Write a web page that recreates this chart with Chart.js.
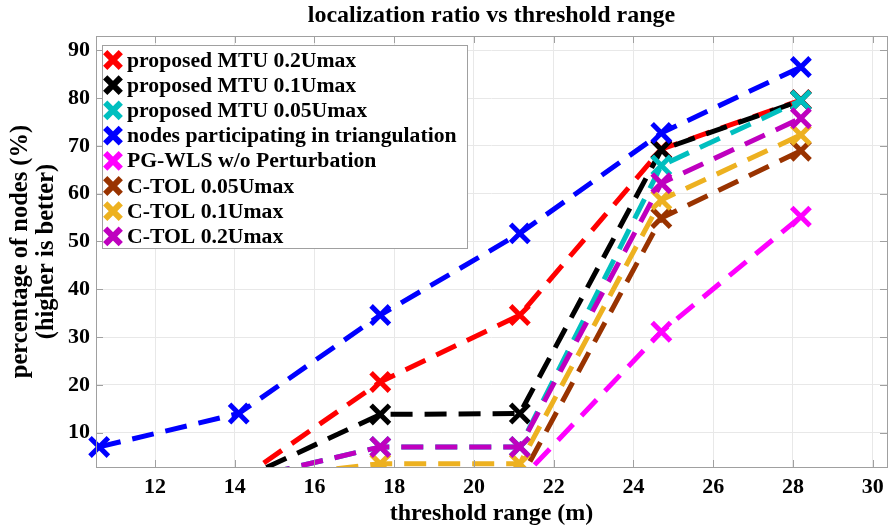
<!DOCTYPE html>
<html>
<head>
<meta charset="utf-8">
<script src="https://cdn.jsdelivr.net/npm/chart.js@4.4.1/dist/chart.umd.min.js"></script>
<style>
  html, body { margin: 0; padding: 0; background: #fff; }
  #wrap { width: 891px; height: 526px; }
</style>
</head>
<body>
<div id="wrap"><canvas id="c" width="891" height="526"></canvas></div>
<script>
// ---- data ----
const thresholdRange = [10.6, 14.1, 17.65, 21.15, 24.7, 28.2];
const mtu02 = [0, 0, 20.6, 34.6, 69.3, 79.6];
const mtu01 = [0, 0, 13.8, 14.0, 69.2, 79.5];
const mtu005 = [0, 0, 7.0, 7.0, 65.9, 79.5];
const triangulation = [7.0, 14.0, 34.6, 51.7, 72.7, 86.5];
const pgWls = [0, 0, 0, 0, 31.1, 55.2];
const ctol005 = [0, 0, 0, 0, 54.9, 69.0];
const ctol01 = [0, 0, 3.5, 3.5, 58.7, 72.3];
const ctol02 = [0, 0, 7.0, 7.0, 62.2, 75.8];
const seriesLabels = [
  'proposed MTU 0.2Umax',
  'proposed MTU 0.1Umax',
  'proposed MTU 0.05Umax',
  'nodes participating in triangulation',
  'PG-WLS w/o Perturbation',
  'C-TOL 0.05Umax',
  'C-TOL 0.1Umax',
  'C-TOL 0.2Umax'
];
const seriesValues = [mtu02, mtu01, mtu005, triangulation, pgWls, ctol005, ctol01, ctol02];
const seriesColors = ['#ff0000', '#000000', '#00bfbf', '#0000ff', '#ff00ff', '#993300', '#edb120', '#bf00bf'];
const xTickLabels = [12, 14, 16, 18, 20, 22, 24, 26, 28, 30];
const yTickLabels = [10, 20, 30, 40, 50, 60, 70, 80, 90];
const chartTitle = 'localization ratio vs threshold range';

const FONT = "'Liberation Serif', 'Times New Roman', serif";
const AXIS_GRAY = '#a0a0a0';

const datasets = seriesLabels.map((label, i) => ({
  label: label,
  data: thresholdRange.map((x, j) => ({x: x, y: seriesValues[i][j]})),
  borderColor: seriesColors[i],
  backgroundColor: seriesColors[i],
  pointBorderColor: seriesColors[i],
  pointBackgroundColor: seriesColors[i],
  borderWidth: 5,
  borderDash: [22, 12],
  borderCapStyle: 'butt',
  pointStyle: 'crossRot',
  pointRadius: 13,
  pointHoverRadius: 13,
  pointBorderWidth: 5,
  pointHoverBorderWidth: 5,
  tension: 0,
  fill: false,
  order: seriesLabels.length - 1 - i,
  clip: {left: 16, top: 16, right: 16, bottom: 0}
}));

const frameAndTicks = {
  id: 'frameAndTicks',
  afterDraw(chart) {
    const {ctx, chartArea: a, scales} = chart;
    ctx.save();
    ctx.strokeStyle = AXIS_GRAY;
    ctx.lineWidth = 1;
    ctx.strokeRect(Math.round(a.left) + 0.5, Math.round(a.top) + 0.5, Math.round(a.right - a.left), Math.round(a.bottom - a.top));
    const tl = 7;
    ctx.beginPath();
    scales.x.ticks.forEach(t => {
      const px = Math.round(scales.x.getPixelForValue(t.value)) + 0.5;
      ctx.moveTo(px, a.bottom); ctx.lineTo(px, a.bottom - tl);
      ctx.moveTo(px, a.top); ctx.lineTo(px, a.top + tl);
    });
    scales.y.ticks.forEach(t => {
      const py = Math.round(scales.y.getPixelForValue(t.value)) + 0.5;
      ctx.moveTo(a.left, py); ctx.lineTo(a.left + tl, py);
      ctx.moveTo(a.right, py); ctx.lineTo(a.right - tl, py);
    });
    ctx.stroke();
    // title centred over the plot area
    ctx.fillStyle = '#000';
    ctx.font = "bold 24px " + FONT;
    ctx.textAlign = 'center';
    ctx.textBaseline = 'middle';
    ctx.fillText(chartTitle, (a.left + a.right) / 2, 16);
    ctx.restore();
  }
};

const boxLegend = {
  id: 'boxLegend',
  afterDraw(chart) {
    const {ctx, chartArea: a} = chart;
    const bx = a.left + 6, by = a.top + 9, bw = 365, bh = 203;
    const rowH = 25.2;
    ctx.save();
    ctx.fillStyle = '#ffffff';
    ctx.fillRect(bx, by, bw, bh);
    ctx.strokeStyle = AXIS_GRAY;
    ctx.lineWidth = 1;
    ctx.strokeRect(Math.round(bx) + 0.5, Math.round(by) + 0.5, bw, bh);
    ctx.font = "bold 21.7px " + FONT;
    ctx.textBaseline = 'middle';
    ctx.textAlign = 'left';
    chart.data.datasets.forEach((ds, i) => {
      const cy = by + 15 + i * rowH;
      ctx.strokeStyle = ds.borderColor;
      ctx.fillStyle = ds.borderColor;
      ctx.lineWidth = 6;
      Chart.helpers.drawPoint(ctx, {pointStyle: 'crossRot', radius: 11, rotation: 0, borderWidth: 6}, bx + 11, cy);
      ctx.fillStyle = '#000000';
      ctx.fillText(ds.label, bx + 25, cy + 1);
    });
    ctx.restore();
  }
};

new Chart(document.getElementById('c'), {
  type: 'line',
  data: { datasets: datasets },
  plugins: [frameAndTicks, boxLegend],
  options: {
    responsive: false,
    animation: false,
    events: [],
    layout: { autoPadding: false, padding: { left: 0, right: 4, top: 36, bottom: 0 } },
    plugins: {
      legend: { display: false },
      tooltip: { enabled: false },
      title: { display: false }
    },
    scales: {
      x: {
        type: 'linear',
        min: 10.52,
        max: 30.36,
        afterBuildTicks(scale) { scale.ticks = xTickLabels.map(v => ({value: v})); },
        afterFit(scale) { scale.height = 59; scale.paddingLeft = 0; scale.paddingRight = 0; },
        grid: { color: '#e8e8e8', lineWidth: 1, drawTicks: false },
        border: { display: false },
        ticks: {
          color: '#000',
          padding: 7,
          maxRotation: 0,
          autoSkip: false,
          font: { family: FONT, size: 22, weight: 'bold', lineHeight: 1.2 },
          callback: v => String(v)
        },
        title: {
          display: true,
          text: 'threshold range (m)',
          color: '#000',
          font: { family: FONT, size: 24, weight: 'bold', lineHeight: 1.05 },
          padding: { top: 0, bottom: 0 }
        }
      },
      y: {
        type: 'linear',
        min: 2.8,
        max: 93,
        afterBuildTicks(scale) { scale.ticks = yTickLabels.map(v => ({value: v})); },
        afterFit(scale) { scale.width = 96; scale.paddingTop = 0; scale.paddingBottom = 0; },
        grid: { color: '#e8e8e8', lineWidth: 1, drawTicks: false },
        border: { display: false },
        ticks: {
          color: '#000',
          padding: 6,
          autoSkip: false,
          font: { family: FONT, size: 22, weight: 'bold', lineHeight: 1.2 },
          callback: v => String(v)
        },
        title: {
          display: true,
          text: ['percentage of nodes (%)', '(higher is better)'],
          color: '#000',
          font: { family: FONT, size: 24.5, weight: 'bold', lineHeight: 1.06 },
          padding: { top: 8, bottom: 0 }
        }
      }
    }
  }
});
</script>
</body>
</html>
